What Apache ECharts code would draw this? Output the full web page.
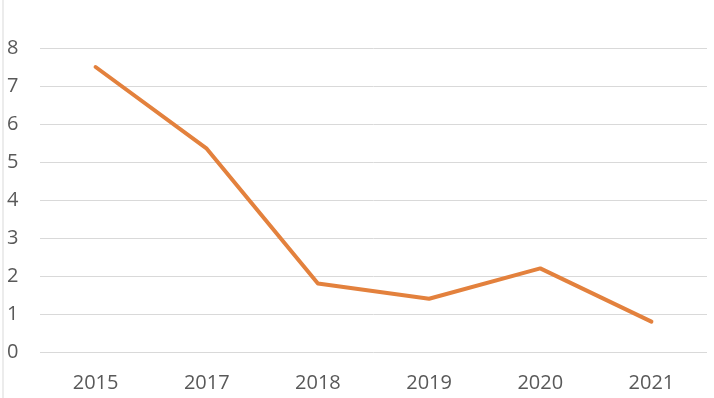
<!DOCTYPE html>
<html>
<head>
<meta charset="utf-8">
<script src="https://cdn.jsdelivr.net/npm/echarts@6/dist/echarts.min.js"></script>
<style>
  html, body { margin: 0; padding: 0; background: #fff; }
  #chart { width: 714px; height: 398px; }
</style>
</head>
<body>
<div id="chart"></div>
<script>
const years = ['2015', '2017', '2018', '2019', '2020', '2021'];
const values = [7.5, 5.35, 1.8, 1.4, 2.2, 0.8];
const yTicks = [0, 1, 2, 3, 4, 5, 6, 7, 8];

const chart = echarts.init(document.getElementById('chart'));
chart.setOption({
  animation: false,
  grid: { left: 40, right: 7, top: 48, bottom: 46 },
  graphic: [{
    type: 'line',
    shape: { x1: 3, y1: 0, x2: 3, y2: 398 },
    style: { stroke: '#d9d9d9', lineWidth: 1 }
  }],
  xAxis: {
    type: 'category',
    data: years,
    boundaryGap: true,
    axisLine: { show: false },
    axisTick: { show: false },
    axisLabel: { color: '#595959', fontSize: 20, fontFamily: 'Open Sans', margin: 21 }
  },
  yAxis: {
    type: 'value',
    min: yTicks[0],
    max: yTicks[yTicks.length - 1],
    interval: 1,
    axisLine: { show: false },
    axisTick: { show: false },
    axisLabel: { color: '#595959', fontSize: 20, fontFamily: 'Open Sans', align: 'left', margin: 33 },
    splitLine: { lineStyle: { color: '#d9d9d9', width: 1 } }
  },
  series: [{
    type: 'line',
    data: values,
    symbol: 'none',
    lineStyle: { color: '#E3813D', width: 4, cap: 'round', join: 'round' }
  }]
});
</script>
</body>
</html>
